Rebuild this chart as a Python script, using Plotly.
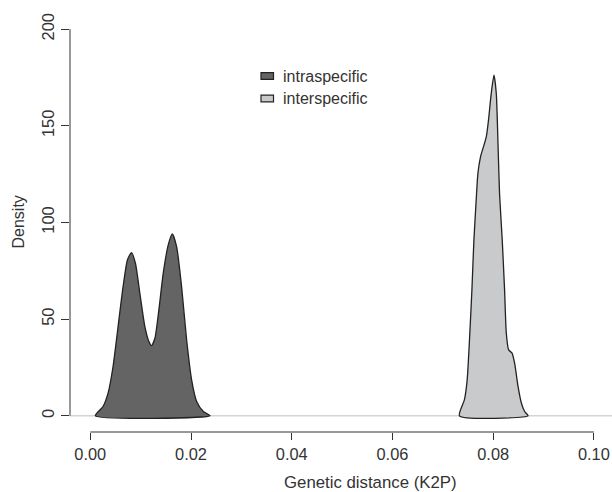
"""Density of intra- vs interspecific K2P genetic distances."""
import plotly.graph_objects as go

# density curves
intra_x = [0.0010, 0.00253, 0.00353, 0.00452, 0.00552, 0.00651, 0.00737, 0.00817,
           0.00896, 0.00984, 0.01083, 0.01163, 0.01216, 0.01283, 0.01362, 0.01448,
           0.01548, 0.01628, 0.01714, 0.01813, 0.01913, 0.02012, 0.02112, 0.02245,
           0.02378]
intra_y = [0, 4.8, 11.7, 25.5, 46.2, 66.8, 80.6, 84.4,
           78.9, 63.4, 46.2, 38.4, 36.3, 40.1, 54.8, 73.7,
           88.4, 94.1, 87.5, 66.8, 39.3, 18.6, 7.4, 2.2,
           0]

inter_x = [0.07331, 0.07430, 0.07484, 0.07530, 0.07578, 0.07618, 0.07663, 0.07697,
           0.07749, 0.07817, 0.07863, 0.07908, 0.07962, 0.08016, 0.08062, 0.08096,
           0.08127, 0.08180, 0.08227, 0.08261, 0.08307, 0.08375, 0.08426, 0.08494,
           0.08560, 0.08625, 0.08693]
inter_y = [0, 8.3, 18.6, 39.3, 65, 91, 111.6, 125.4,
           134, 140, 144.3, 153, 166.8, 176.2, 166.8, 141,
           115, 91, 65, 42.7, 34.1, 32.4, 27.2, 15.2,
           6.6, 2.2, 0]

series_names = ["intraspecific", "interspecific"]
series_fill = ["#646464", "#c9cacc"]

x_ticks = [0.00, 0.02, 0.04, 0.06, 0.08, 0.10]
x_ticklabels = ["0.00", "0.02", "0.04", "0.06", "0.08", "0.10"]
y_ticks = [0, 50, 100, 150, 200]

W, H = 612, 492
ML, MR, MT, MB = 70, 0, 13, 60
FONT = "Liberation Sans, Arial, sans-serif"
INK = "#333333"


def px_x(p):
    return (p - ML) / (W - ML - MR)


def px_y(p):
    return (H - MB - p) / (H - MT - MB)


fig = go.Figure()
for xs, ys, name, col in [(intra_x, intra_y, series_names[0], series_fill[0]),
                          (inter_x, inter_y, series_names[1], series_fill[1])]:
    fig.add_trace(go.Scatter(
        x=xs + [xs[0]], y=ys + [ys[0]], mode="lines", fill="toself",
        fillcolor=col, line=dict(color="#222222", width=1.3, shape="spline", smoothing=0.6),
        name=name, showlegend=False, hoverinfo="skip",
    ))

shapes = [
    # gray zero line
    dict(type="line", xref="paper", yref="y", x0=0, x1=1, y0=0, y1=0,
         line=dict(color="#d4d4d4", width=1.5), layer="below"),
    # R-style axis lines spanning only the tick range
    dict(type="line", xref="x", yref="paper", x0=x_ticks[0], x1=x_ticks[-1], y0=0, y1=0,
         line=dict(color=INK, width=1)),
    dict(type="line", xref="paper", yref="y", x0=0, x1=0, y0=y_ticks[0], y1=y_ticks[-1],
         line=dict(color=INK, width=1)),
]

annotations = [
    dict(text="Genetic distance (K2P)", xref="paper", yref="paper", x=px_x(370), y=0,
         yshift=-50, xanchor="center", yanchor="middle", showarrow=False,
         font=dict(size=16.8, color=INK, family=FONT)),
    dict(text="Density", xref="paper", yref="paper", x=0, y=0.5, xshift=-52,
         textangle=-90, xanchor="center", yanchor="middle", showarrow=False,
         font=dict(size=16, color=INK, family=FONT)),
]

# legend drawn by hand, R style
for i, (name, col) in enumerate(zip(series_names, series_fill)):
    cy = 76 + i * 22.5
    shapes.append(dict(type="rect", xref="paper", yref="paper",
                       x0=px_x(261), x1=px_x(273.5), y0=px_y(cy - 3.3), y1=px_y(cy + 3.3),
                       fillcolor=col, line=dict(color="#222222", width=1.2)))
    annotations.append(dict(text=name, xref="paper", yref="paper", x=px_x(280.5), y=px_y(cy),
                            xanchor="left", yanchor="middle", showarrow=False,
                            font=dict(size=16, color=INK, family=FONT)))

fig.update_layout(
    width=W, height=H,
    margin=dict(l=ML, r=MR, t=MT, b=MB),
    paper_bgcolor="white", plot_bgcolor="white",
    font=dict(family=FONT, size=16, color=INK),
    shapes=shapes, annotations=annotations,
    showlegend=False,
)
fig.update_xaxes(range=[-0.00403, 0.1036], tickvals=x_ticks, ticktext=x_ticklabels,
                 ticks="outside", ticklen=7, tickcolor=INK, tickwidth=1,
                 showline=False, showgrid=False, zeroline=False,
                 tickfont=dict(size=16.4, color=INK, family=FONT))
fig.update_yaxes(range=[-8.4, 208.4], tickvals=y_ticks,
                 ticks="outside", ticklen=8, tickcolor=INK, tickwidth=1, tickangle=-90,
                 showline=False, showgrid=False, zeroline=False,
                 tickfont=dict(size=16.4, color=INK, family=FONT))

# drop the browser's default body margin so the figure sits at the page corner
fig.write_html("out.html", config={"displayModeBar": False},
               post_script="document.body.style.margin='0';")
